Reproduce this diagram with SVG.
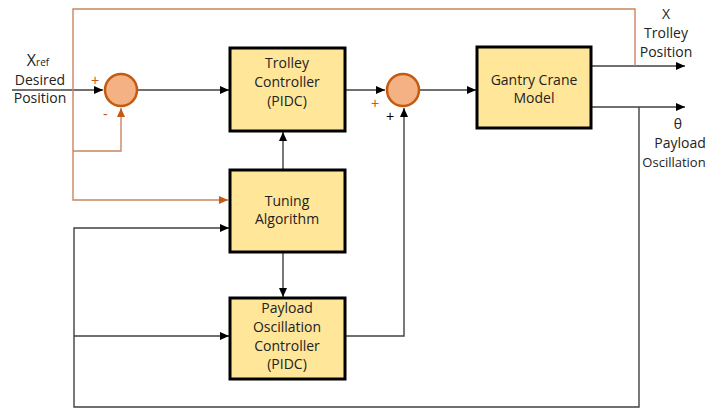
<svg xmlns="http://www.w3.org/2000/svg" width="710" height="409" viewBox="0 0 710 409">
<style>
.box{fill:#ffe699;stroke:#000;stroke-width:3}
.sum{fill:#f4b183;stroke:#c55a11;stroke-width:2.5}
.ln{fill:none;stroke:#404040;stroke-width:1.4}
.ol{fill:none;stroke:#c8855f;stroke-width:1.4}
.t{font-family:"Open Sans","Liberation Sans",sans-serif;font-size:14px;fill:#222;text-anchor:middle}
.o{font-family:"Liberation Sans",sans-serif;font-size:14px;fill:#c55a11}
.k{font-family:"Liberation Sans",sans-serif;font-size:14px;fill:#000}
</style>
<defs>
<marker id="ab" markerWidth="10" markerHeight="8" refX="9" refY="4" orient="auto" markerUnits="userSpaceOnUse"><path d="M0,0L9,4L0,8z" fill="#000"/></marker>
<marker id="ao" markerWidth="10" markerHeight="8" refX="9" refY="4" orient="auto" markerUnits="userSpaceOnUse"><path d="M0,0L9,4L0,8z" fill="#c55a11"/></marker>
</defs>
<rect width="710" height="409" fill="#fff"/>
<g id="connectors">
<path class="ln" d="M12,90H103" marker-end="url(#ab)"/>
<path class="ln" d="M138,90H229" marker-end="url(#ab)"/>
<path class="ln" d="M345,90H385" marker-end="url(#ab)"/>
<path class="ln" d="M420,90H476" marker-end="url(#ab)"/>
<path class="ln" d="M591,66H685" marker-end="url(#ab)"/>
<path class="ln" d="M591,107H685" marker-end="url(#ab)"/>
<path class="ol" d="M635,66V9H73V200H228" marker-end="url(#ao)"/>
<path class="ol" d="M73,151H121V108" marker-end="url(#ao)"/>
<path class="ln" d="M283,170V132" marker-end="url(#ab)"/>
<path class="ln" d="M283,252V297" marker-end="url(#ab)"/>
<path class="ln" d="M639,107V407H74V228H229" marker-end="url(#ab)"/>
<path class="ln" d="M74,336H229" marker-end="url(#ab)"/>
<path class="ln" d="M345,336H404V108" marker-end="url(#ab)"/>
<path d="M317,107V125" stroke="#000" stroke-width="1"/>
</g>
<g id="sum1">
<circle class="sum" cx="121" cy="90" r="16"/>
<text class="o" x="91" y="85">+</text>
<text class="o" x="103" y="119">-</text>
</g>
<g id="sum2">
<circle class="sum" cx="403" cy="90" r="16"/>
<text class="o" x="371" y="108">+</text>
<text class="k" x="386" y="121">+</text>
</g>
<g id="trolley">
<rect class="box" x="230" y="48" width="115" height="83"/>
<text class="t" x="287" y="68">Trolley</text>
<text class="t" x="287" y="87">Controller</text>
<text class="t" x="287" y="106">(PIDC)</text>
</g>
<g id="tuning">
<rect class="box" x="230" y="170" width="115" height="82"/>
<text class="t" x="287" y="206">Tuning</text>
<text class="t" x="287" y="224">Algorithm</text>
</g>
<g id="payload">
<rect class="box" x="230" y="298" width="115" height="81"/>
<text class="t" x="287" y="313">Payload</text>
<text class="t" x="287" y="332">Oscillation</text>
<text class="t" x="287" y="351">Controller</text>
<text class="t" x="287" y="369">(PIDC)</text>
</g>
<g id="gantry">
<rect class="box" x="477" y="47" width="114" height="81"/>
<text class="t" x="534" y="85">Gantry Crane</text>
<text class="t" x="534" y="103">Model</text>
</g>
<g id="labels">
<text class="t" x="38" y="66" style="font-size:16px">X<tspan style="font-size:10px">ref</tspan></text>
<text class="t" x="40" y="85">Desired</text>
<text class="t" x="40" y="103">Position</text>
<text class="t" x="666" y="19">X</text>
<text class="t" x="666" y="38">Trolley</text>
<text class="t" x="666" y="57">Position</text>
<text class="t" x="678" y="129">θ</text>
<text class="t" x="680" y="148">Payload</text>
<text class="t" x="674" y="167" style="font-size:13px">Oscillation</text>
</g>
</svg>
